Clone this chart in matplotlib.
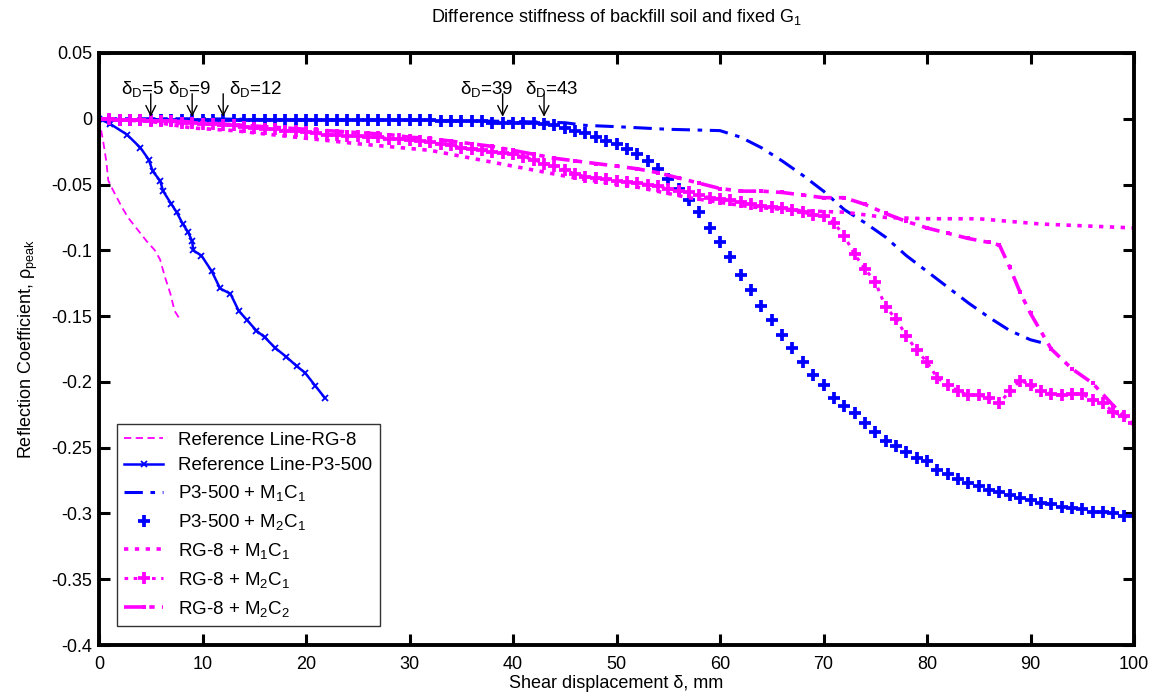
import matplotlib
matplotlib.use("Agg")
import matplotlib.pyplot as plt

plt.rcParams["font.family"] = ["Liberation Sans", "DejaVu Sans"]
plt.rcParams["mathtext.fontset"] = "custom"
plt.rcParams["mathtext.rm"] = "Liberation Sans"
plt.rcParams["mathtext.it"] = "Liberation Sans"
plt.rcParams["mathtext.bf"] = "Liberation Sans:bold"
plt.rcParams["axes.unicode_minus"] = False

# ---------------- data ----------------
ref_rg8_x = [0, 0.4, 0.7, 0.9, 1.4, 2.2, 2.8, 3.8, 4.6, 5.4, 5.9, 6.4, 6.9, 7.3, 7.7]
ref_rg8_y = [0, -0.017, -0.032, -0.047, -0.055, -0.067, -0.075, -0.085, -0.093,
             -0.100, -0.107, -0.121, -0.133, -0.146, -0.151]

ref_p3_x = [0, 1.1, 2.7, 4.0, 4.8, 5.2, 5.9, 6.2, 7.0, 7.5, 8.1, 8.6, 9.0, 9.1,
            9.9, 10.9, 11.7, 12.7, 13.5, 14.3, 15.2, 16.0, 17.0, 18.1, 19.1,
            19.9, 20.9, 21.8]
ref_p3_y = [0, -0.004, -0.012, -0.022, -0.031, -0.040, -0.047, -0.055, -0.065,
            -0.071, -0.080, -0.086, -0.093, -0.100, -0.104, -0.116, -0.129,
            -0.133, -0.146, -0.153, -0.161, -0.166, -0.174, -0.181, -0.188,
            -0.193, -0.203, -0.212]

p3_m1c1_x = [0, 10, 20, 30, 40, 45, 47, 50, 55, 60, 62, 64, 66, 68, 70, 72, 74,
             76, 78, 80, 82, 84, 86, 88, 90, 91]
p3_m1c1_y = [0, 0, -0.001, -0.001, -0.002, -0.003, -0.005, -0.006, -0.008,
             -0.009, -0.014, -0.022, -0.032, -0.043, -0.055, -0.069, -0.079,
             -0.090, -0.104, -0.116, -0.128, -0.140, -0.151, -0.161, -0.168,
             -0.170]

p3_m2c1_x = list(range(0, 101))
p3_m2c1_y = [
    0.000, -0.001, -0.001, -0.001, -0.001, -0.001, -0.001, -0.001, -0.001, -0.001,
    -0.001, -0.001, -0.001, -0.001, -0.001, -0.001, -0.001, -0.001, -0.001, -0.001,
    -0.001, -0.001, -0.001, -0.001, -0.001, -0.001, -0.001, -0.001, -0.001, -0.001,
    -0.001, -0.001, -0.001, -0.002, -0.002, -0.002, -0.002, -0.002, -0.003, -0.003,
    -0.003, -0.003, -0.003, -0.004, -0.005, -0.007, -0.009, -0.011, -0.014, -0.017,
    -0.019, -0.023, -0.027, -0.032, -0.038, -0.046, -0.053, -0.062, -0.071, -0.083,
    -0.094, -0.105, -0.119, -0.130, -0.142, -0.153, -0.164, -0.174, -0.185, -0.195,
    -0.202, -0.212, -0.218, -0.224, -0.231, -0.238, -0.245, -0.249, -0.253, -0.258,
    -0.260, -0.267, -0.270, -0.274, -0.277, -0.279, -0.282, -0.284, -0.286, -0.288,
    -0.290, -0.292, -0.293, -0.295, -0.296, -0.297, -0.299, -0.299, -0.300, -0.302,
    -0.302]

rg8_m1c1_x = [0, 5, 9, 13, 19, 25, 32, 38, 44, 46, 52, 57, 63, 68, 72, 76, 80,
              85, 91, 100]
rg8_m1c1_y = [0, -0.002, -0.007, -0.009, -0.014, -0.019, -0.024, -0.033, -0.042,
              -0.045, -0.052, -0.060, -0.067, -0.070, -0.071, -0.075, -0.076,
              -0.076, -0.080, -0.083]

rg8_m2c1_x = list(range(0, 101))
rg8_m2c1_y = [
    0.000, 0.000, -0.001, -0.001, -0.001, -0.002, -0.002, -0.002, -0.003, -0.003,
    -0.004, -0.004, -0.005, -0.005, -0.006, -0.007, -0.008, -0.008, -0.009, -0.009,
    -0.010, -0.011, -0.012, -0.012, -0.013, -0.013, -0.014, -0.014, -0.015, -0.015,
    -0.016, -0.017, -0.018, -0.019, -0.020, -0.022, -0.023, -0.024, -0.025, -0.026,
    -0.027, -0.029, -0.031, -0.034, -0.036, -0.039, -0.042, -0.044, -0.045, -0.046,
    -0.047, -0.048, -0.049, -0.050, -0.051, -0.053, -0.055, -0.056, -0.058, -0.060,
    -0.061, -0.062, -0.063, -0.065, -0.066, -0.067, -0.068, -0.069, -0.071, -0.073,
    -0.074, -0.079, -0.089, -0.103, -0.114, -0.124, -0.143, -0.152, -0.165, -0.176,
    -0.185, -0.197, -0.202, -0.207, -0.210, -0.210, -0.212, -0.216, -0.207, -0.199,
    -0.202, -0.207, -0.209, -0.210, -0.209, -0.209, -0.214, -0.216, -0.223, -0.226,
    -0.231]

rg8_m2c2_x = [0, 2, 4, 6, 8, 10, 12, 14, 16, 18, 20, 22, 24, 26, 28, 30, 32, 34,
              36, 38, 40, 42, 44, 46, 48, 50, 52, 54, 56, 58, 60, 62, 64, 66, 68,
              70, 72, 74, 76, 78, 80, 82, 84, 86, 87, 88, 89, 90, 92, 94, 96, 98,
              100]
rg8_m2c2_y = [0, -0.001, -0.001, -0.002, -0.002, -0.003, -0.004, -0.005, -0.006,
              -0.007, -0.008, -0.009, -0.010, -0.011, -0.012, -0.014, -0.015,
              -0.017, -0.019, -0.021, -0.024, -0.027, -0.030, -0.032, -0.034,
              -0.036, -0.038, -0.041, -0.045, -0.049, -0.053, -0.055, -0.055,
              -0.056, -0.058, -0.060, -0.060, -0.065, -0.072, -0.078, -0.083,
              -0.087, -0.091, -0.094, -0.096, -0.113, -0.132, -0.148, -0.175,
              -0.190, -0.201, -0.218, -0.233]

labels = ["Reference Line-RG-8", "Reference Line-P3-500",
          "P3-500 + M$_1$C$_1$", "P3-500 + M$_2$C$_1$",
          "RG-8 + M$_1$C$_1$", "RG-8 + M$_2$C$_1$", "RG-8 + M$_2$C$_2$"]

delta_d_marks = [5, 9, 12, 39, 43]

x_ticks = [0, 10, 20, 30, 40, 50, 60, 70, 80, 90, 100]
y_ticks = [0.05, 0, -0.05, -0.1, -0.15, -0.2, -0.25, -0.3, -0.35, -0.4]
y_tick_labels = ["0.05", "0", "-0.05", "-0.1", "-0.15", "-0.2", "-0.25",
                 "-0.3", "-0.35", "-0.4"]

# ---------------- figure ----------------
BLUE = (0, 0, 1)
MAG = (1, 0, 1)

fig = plt.figure(figsize=(11.64, 7.0), dpi=100)
ax = fig.add_axes([99 / 1164, 55 / 700, 1035 / 1164, 592 / 700])

ax.plot(ref_rg8_x, ref_rg8_y, color=MAG, ls=(0, (4, 2.5)), lw=1.3,
        label=labels[0])
ax.plot(ref_p3_x, ref_p3_y, color=BLUE, ls="-", lw=1.8, marker="x",
        ms=4, mew=1.3, label=labels[1])
ax.plot(p3_m1c1_x, p3_m1c1_y, color=BLUE, ls=(0, (6, 2.5, 1.5, 2.5)), lw=2.2,
        label=labels[2])
ax.plot(p3_m2c1_x, p3_m2c1_y, color=BLUE, ls="none", marker="+", ms=8.5,
        mew=2.7, label=labels[3])
ax.plot(rg8_m1c1_x, rg8_m1c1_y, color=MAG, ls=(0, (1.2, 1.8)), lw=2.6,
        label=labels[4])
ax.plot(rg8_m2c1_x, rg8_m2c1_y, color=MAG, ls=(0, (1.2, 1.8)), lw=2.2,
        marker="+", ms=8.5, mew=2.7, label=labels[5])
ax.plot(rg8_m2c2_x, rg8_m2c2_y, color=MAG, ls=(0, (5, 2, 1.5, 2)), lw=2.6,
        marker="s", ms=3.5, mew=0, label=labels[6])

ax.set_xlim(0, 100)
ax.set_ylim(-0.4, 0.05)
ax.set_xticks(x_ticks)
ax.set_xticklabels([str(t) for t in x_ticks])
ax.set_yticks(y_ticks)
ax.set_yticklabels(y_tick_labels)
ax.tick_params(direction="in", length=8, width=2.2, labelsize=13,
               top=True, right=True)
ax.tick_params(axis="x", pad=8)
ax.tick_params(axis="y", pad=5)
for side in ax.spines.values():
    side.set_linewidth(2.8)

ax.set_xlabel("Shear displacement δ, mm", fontsize=13, labelpad=1)
ax.set_ylabel("Reflection Coefficient, ρ$_{peak}$", fontsize=13, labelpad=8)
ax.set_title("Difference stiffness of backfill soil and fixed G$_1$",
             fontsize=13, pad=22)

# delta_D arrows with their labels
text_left = [2.1, 6.7, 12.6, 34.9, 41.2]
for d, tx in zip(delta_d_marks, text_left):
    ax.annotate("", xy=(d, 0.0015), xytext=(d, 0.019),
                arrowprops=dict(arrowstyle="->,head_length=0.5,head_width=0.25",
                                color="black", lw=1.0, mutation_scale=14,
                                shrinkA=0, shrinkB=0))
    ax.text(tx, 0.0185, "δ$_\\mathrm{D}$=" + str(d), fontsize=13.5,
            ha="left", va="baseline")

leg = ax.legend(loc="lower left", bbox_to_anchor=(0.017, 0.032), fontsize=13.5,
                frameon=True, fancybox=False, handlelength=2.1,
                labelspacing=0.47, borderpad=0.4, handletextpad=0.8,
                borderaxespad=0)
leg.get_frame().set_edgecolor("black")
leg.get_frame().set_linewidth(1.0)

fig.savefig("out.png", dpi=100)
